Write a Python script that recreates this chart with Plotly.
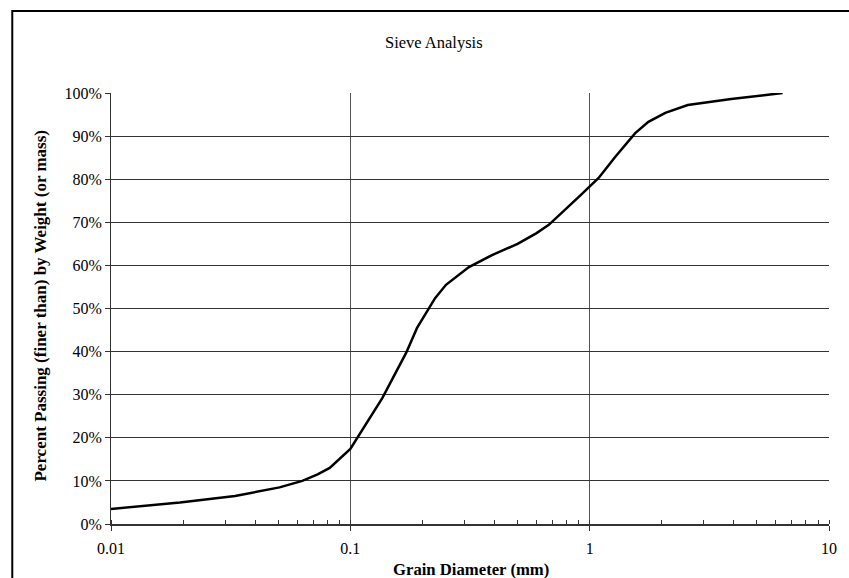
import plotly.graph_objects as go

grain_mm = [0.01, 0.0194, 0.033, 0.0506, 0.063, 0.073, 0.082, 0.09, 0.1, 0.136,
            0.171, 0.19, 0.226, 0.251, 0.313, 0.391, 0.5, 0.6, 0.675, 0.917,
            1.0, 1.09, 1.28, 1.55, 1.76, 2.07, 2.57, 3.9, 6.4]
passing_pct = [3.5, 5.0, 6.5, 8.5, 10.0, 11.5, 13.0, 15.0, 17.4, 29.2,
               39.7, 45.5, 52.4, 55.5, 59.6, 62.4, 65.0, 67.5, 69.4, 76.3,
               78.2, 80.3, 85.2, 90.7, 93.3, 95.4, 97.2, 98.6, 100.0]

x_ticks = [0.01, 0.1, 1, 10]
x_tick_text = ["0.01", "0.1", "1", "10"]
y_ticks = [0, 10, 20, 30, 40, 50, 60, 70, 80, 90, 100]
y_tick_text = [f"{v}%" for v in y_ticks]

FONT = "Liberation Serif, Times New Roman, serif"

fig = go.Figure()
fig.add_trace(go.Scatter(x=grain_mm, y=passing_pct, mode="lines",
                         line=dict(color="black", width=2.5), showlegend=False))

fig.update_layout(
    width=849, height=578,
    margin=dict(l=111, r=18, t=93, b=54),
    paper_bgcolor="white", plot_bgcolor="white",
    font=dict(family=FONT, size=16, color="black"),
    showlegend=False,
)
fig.update_xaxes(
    type="log", range=[-2, 1],
    tickvals=x_ticks, ticktext=x_tick_text,
    ticks="outside", ticklen=5, tickcolor="#333", tickwidth=1,
    showgrid=True, gridcolor="#555", gridwidth=1,
    showline=True, linecolor="#333", linewidth=2,
    zeroline=False,
    tickfont=dict(size=16),
    ticklabelstandoff=4,
    minor=dict(ticks="inside", ticklen=4, tickcolor="#333", dtick="D1", showgrid=False),
)
fig.update_yaxes(
    range=[0, 100],
    tickvals=y_ticks, ticktext=y_tick_text,
    ticks="outside", ticklen=5, tickcolor="#333",
    showgrid=True, gridcolor="#333", gridwidth=1,
    showline=True, linecolor="#333", linewidth=1,
    zeroline=False,
    tickfont=dict(size=16),
)

fig.add_annotation(text="Sieve Analysis", x=0.45, y=1.118, xref="paper", yref="paper",
                   showarrow=False, font=dict(size=16.5), xanchor="center", yanchor="middle")
fig.add_annotation(text="<b>Grain Diameter (mm)</b>", x=0.501, y=-0.1067, xref="paper", yref="paper",
                   showarrow=False, font=dict(size=16.7), xanchor="center", yanchor="middle")
fig.add_annotation(text="<b>Percent Passing (finer than) by Weight (or mass)</b>",
                   x=-0.0986, y=0.505, xref="paper", yref="paper", textangle=-90,
                   showarrow=False, font=dict(size=17), xanchor="center", yanchor="middle")

fig.add_shape(type="rect", xref="paper", yref="paper",
              x0=-0.1375, x1=1.5, y0=-0.5, y1=1.19,
              line=dict(color="black", width=2), layer="below")

fig.write_html("out.html")
